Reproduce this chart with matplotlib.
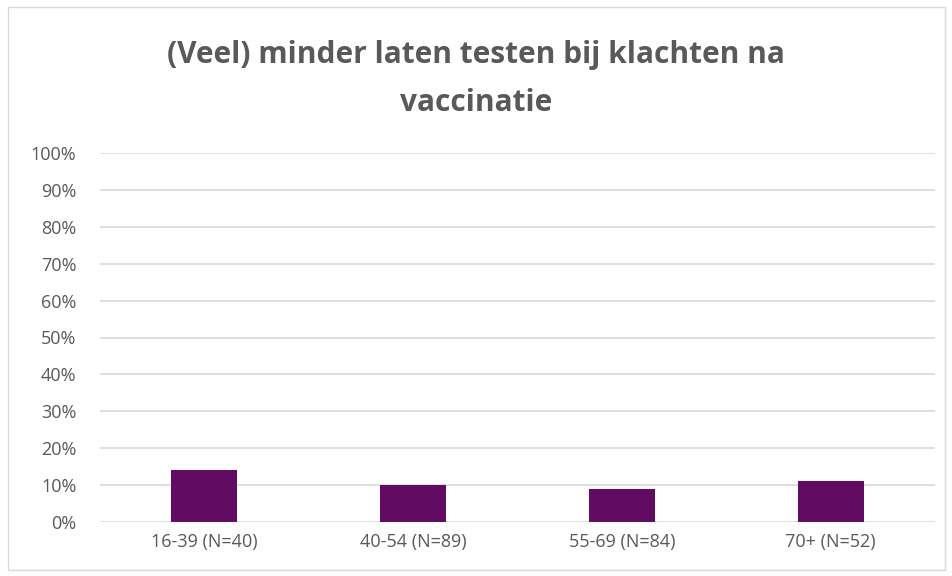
import matplotlib
matplotlib.use("Agg")
import matplotlib.pyplot as plt
from matplotlib.patches import Rectangle
from matplotlib.ticker import MultipleLocator, FuncFormatter

categories = ["16-39 (N=40)", "40-54 (N=89)", "55-69 (N=84)", "70+ (N=52)"]
values = [14, 10, 9, 11]
title = "(Veel) minder laten testen bij klachten na\nvaccinatie"

plt.rcParams['font.family'] = ['Open Sans', 'DejaVu Sans']

fig = plt.figure(figsize=(9.52, 5.76), dpi=100)
fig.patches.append(Rectangle((8/952, 6/576), 937/952, 563/576, transform=fig.transFigure,
                             fill=False, edgecolor="#d9d9d9", linewidth=1))
ax = fig.add_axes([100/952, 1-522/576, 835/952, 369/576])
x = range(len(categories))
ax.bar(x, values, width=0.315, color="#610b63", zorder=3)
ax.set_xlim(-0.5, len(categories)-0.5)
ax.set_ylim(0, 100)
ax.yaxis.set_major_locator(MultipleLocator(10))
ax.yaxis.set_major_formatter(FuncFormatter(lambda v, p: f"{v:.0f}%"))
ax.set_xticks(list(x))
ax.set_xticklabels(categories)
ax.grid(axis='y', color="#d9d9d9", linewidth=1.2, zorder=0)
for s in ax.spines.values():
    s.set_visible(False)
ax.tick_params(length=0, labelsize=13, colors="#595959")
ax.tick_params(axis='y', pad=17)
ax.tick_params(axis='x', pad=8)
fig.text(476/952, 1-79/576, title, ha='center', va='center', fontsize=21.5, fontweight='bold',
         color="#595959", linespacing=1.75)
fig.savefig("out.png", dpi=100)
